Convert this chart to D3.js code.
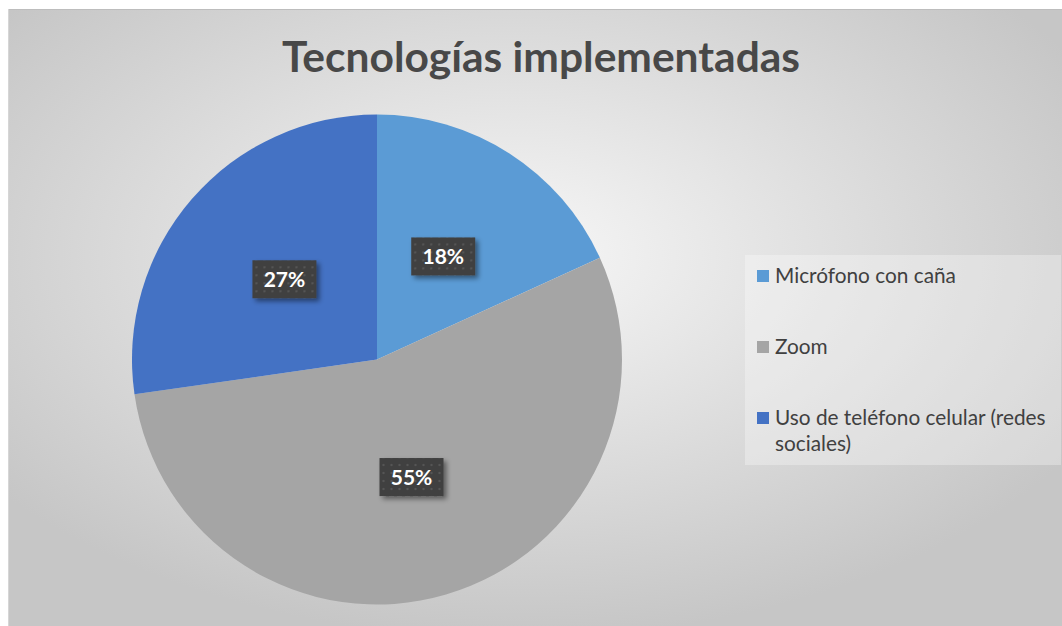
<!DOCTYPE html>
<html>
<head>
<meta charset="utf-8">
<script src="https://cdn.jsdelivr.net/npm/d3@7"></script>
<style>
  body { margin: 0; background: #fff; }
  svg { display: block; font-family: Lato, "Open Sans", sans-serif; }
</style>
</head>
<body>
<div class="chart"></div>
<script>
const title = "Tecnologías implementadas";
const categories = ["Micrófono con caña", "Zoom", "Uso de teléfono celular (redes sociales)"];
const values = [2, 6, 3];
const colors = ["#5b9bd5", "#a5a5a5", "#4472c4"];

// containers
const svg = d3.select(".chart")
				.append("svg")
				.attr("width", 1062)
				.attr("height", 626);

const defs = svg.append("defs");

const grad = defs.append("radialGradient")
				.attr("id", "bg")
				.attr("cx", "48%").attr("cy", "40%").attr("r", "62%");
grad.append("stop").attr("offset", "0%").attr("stop-color", "#f7f7f7");
grad.append("stop").attr("offset", "100%").attr("stop-color", "#c6c6c6");

const pat = defs.append("pattern")
				.attr("id", "dots")
				.attr("width", 8).attr("height", 8)
				.attr("patternUnits", "userSpaceOnUse");
pat.append("rect").attr("width", 8).attr("height", 8).attr("fill", "#3f3f3f");
pat.append("circle").attr("cx", 4).attr("cy", 4).attr("r", 1.3).attr("fill", "#555");

const shadow = defs.append("filter").attr("id", "shadow")
				.attr("x", "-20%").attr("y", "-20%").attr("width", "150%").attr("height", "150%");
shadow.append("feDropShadow")
	.attr("dx", 3).attr("dy", 3).attr("stdDeviation", 2.5)
	.attr("flood-color", "#000").attr("flood-opacity", 0.45);

svg.append("rect")
	.attr("x", 8).attr("y", 9)
	.attr("width", 1054).attr("height", 617)
	.attr("fill", "url(#bg)");

svg.append("line")
	.attr("x1", 8).attr("x2", 1062).attr("y1", 9.5).attr("y2", 9.5)
	.attr("stroke", "#bdbdbd");
svg.append("line")
	.attr("x1", 8.5).attr("x2", 8.5).attr("y1", 9).attr("y2", 626)
	.attr("stroke", "#d6d6d6");

// title
svg.append("text")
	.attr("x", 541).attr("y", 72)
	.attr("text-anchor", "middle")
	.attr("font-size", 42.5)
	.attr("font-weight", "bold")
	.attr("fill", "#484848")
	.text(title);

// pie
const cx = 377, cy = 359.5, radius = 245;
const total = d3.sum(values);
const pie = d3.pie().sort(null).value((d) => d)(values);
const arc = d3.arc().innerRadius(0).outerRadius(radius);
const labelArc = d3.arc().innerRadius(radius * 0.5).outerRadius(radius * 0.5);

const chart = svg.append("g")
				.attr("transform", `translate(${cx}, ${cy})`);

chart.selectAll(".slice")
		.data(pie).enter()
	.append("path")
		.attr("class", "slice")
		.attr("d", arc)
		.attr("fill", (d, i) => colors[i]);

const labels = chart.selectAll(".label")
		.data(pie).enter()
	.append("g")
		.attr("class", "label")
		.attr("transform", (d) => `translate(${labelArc.centroid(d)})`);

labels.append("rect")
	.attr("x", -32).attr("y", -19)
	.attr("width", 64).attr("height", 38)
	.attr("fill", "url(#dots)")
	.attr("filter", "url(#shadow)");

labels.append("text")
	.attr("text-anchor", "middle")
	.attr("dy", 7.5)
	.attr("font-size", 21)
	.attr("font-weight", "bold")
	.attr("fill", "#fff")
	.text((d) => Math.round(d.value / total * 100) + "%");

// legend
const legend = svg.append("g").attr("class", "legend");
legend.append("rect")
	.attr("x", 745).attr("y", 255)
	.attr("width", 316).attr("height", 210)
	.attr("fill", "#fff").attr("fill-opacity", 0.3);

const legendLines = [["Micrófono con caña"], ["Zoom"], ["Uso de teléfono celular (redes", "sociales)"]];
const rowY = d3.scalePoint().domain(categories).range([276, 418]);

const items = legend.selectAll(".item")
		.data(categories).enter()
	.append("g")
		.attr("class", "item")
		.attr("transform", (d) => `translate(757, ${rowY(d)})`);

items.append("rect")
	.attr("x", 0).attr("y", -6)
	.attr("width", 12).attr("height", 12)
	.attr("fill", (d, i) => colors[i]);

items.append("text")
	.attr("x", 18).attr("y", 7)
	.attr("font-size", 20.8)
	.attr("fill", "#404040")
	.selectAll("tspan")
		.data((d, i) => legendLines[i]).enter()
	.append("tspan")
		.attr("x", 18)
		.attr("dy", (d, j) => j === 0 ? 0 : 26)
		.text((d) => d);
</script>
</body>
</html>
